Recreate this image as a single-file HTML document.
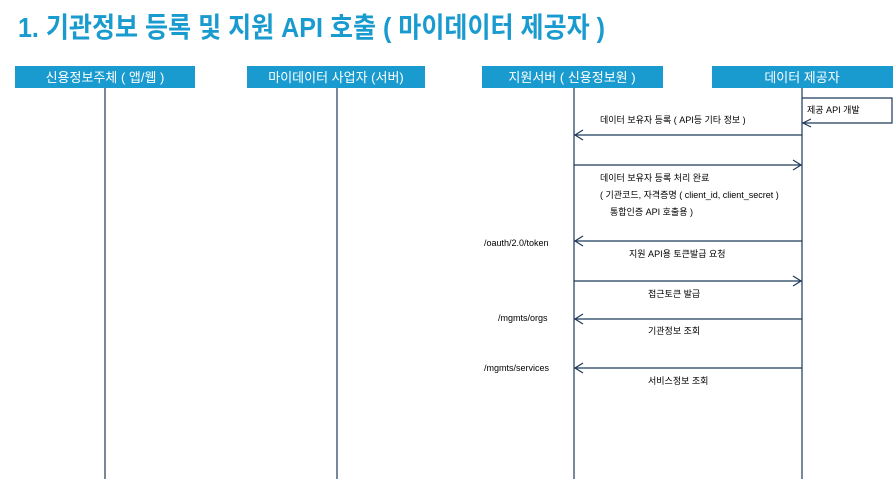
<!DOCTYPE html>
<html><head><meta charset="utf-8"><style>
body{margin:0;background:#fff;width:895px;height:479px;overflow:hidden;font-family:"Liberation Sans","Noto Sans CJK KR",sans-serif}
</style></head><body>
<svg width="895" height="479" xmlns="http://www.w3.org/2000/svg" font-family="Liberation Sans, Noto Sans CJK KR, sans-serif">
<text x="18" y="37" font-size="28" font-weight="bold" fill="#1a9bd0" textLength="587" lengthAdjust="spacingAndGlyphs">1. 기관정보 등록 및 지원 API 호출 ( 마이데이터 제공자 )</text>
<g fill="#1a9bd0">
<rect x="15" y="66" width="180" height="22"/>
<rect x="247" y="66" width="178" height="22"/>
<rect x="482" y="66" width="181" height="22"/>
<rect x="712" y="66" width="181" height="22"/>
</g>
<g fill="#fff" font-size="13" text-anchor="middle">
<text x="105" y="82">신용정보주체 ( 앱/웹 )</text>
<text x="336" y="82">마이데이터 사업자 (서버)</text>
<text x="572" y="82">지원서버 ( 신용정보원 )</text>
<text x="802" y="82">데이터 제공자</text>
</g>
<g stroke="#1f3a5a" stroke-width="1.2" fill="none">
<line x1="105" y1="88" x2="105" y2="479"/>
<line x1="337" y1="88" x2="337" y2="479"/>
<line x1="574" y1="88" x2="574" y2="479"/>
<line x1="802" y1="88" x2="802" y2="479"/>
<polyline points="802,98 892,98 892,123 802,123"/>
<polyline points="811,119 803,123 811,127"/>
<line x1="574" y1="135" x2="802" y2="135"/><polyline points="583,130 575,135 583,140"/>
<line x1="574" y1="165" x2="802" y2="165"/><polyline points="793,160 801,165 793,170"/>
<line x1="574" y1="241" x2="802" y2="241"/><polyline points="583,236 575,241 583,246"/>
<line x1="574" y1="281" x2="802" y2="281"/><polyline points="793,276 801,281 793,286"/>
<line x1="574" y1="319" x2="802" y2="319"/><polyline points="583,314 575,319 583,324"/>
<line x1="574" y1="368" x2="802" y2="368"/><polyline points="583,363 575,368 583,373"/>
</g>
<g font-size="9" fill="#000">
<text x="807" y="113">제공 API 개발</text>
<text x="600" y="123">데이터 보유자 등록 ( API등 기타 정보 )</text>
<text x="600" y="181">데이터 보유자 등록 처리 완료</text>
<text x="600" y="198">( 기관코드, 자격증명 ( client_id, client_secret )</text>
<text x="610" y="215">통합인증 API 호출용 )</text>
<text x="484" y="246">/oauth/2.0/token</text>
<text x="629" y="257">지원 API용 토큰발급 요청</text>
<text x="648" y="297">접근토큰 발급</text>
<text x="498" y="321">/mgmts/orgs</text>
<text x="648" y="334">기관정보 조회</text>
<text x="484" y="371">/mgmts/services</text>
<text x="648" y="384">서비스정보 조회</text>
</g>
</svg>
</body></html>
